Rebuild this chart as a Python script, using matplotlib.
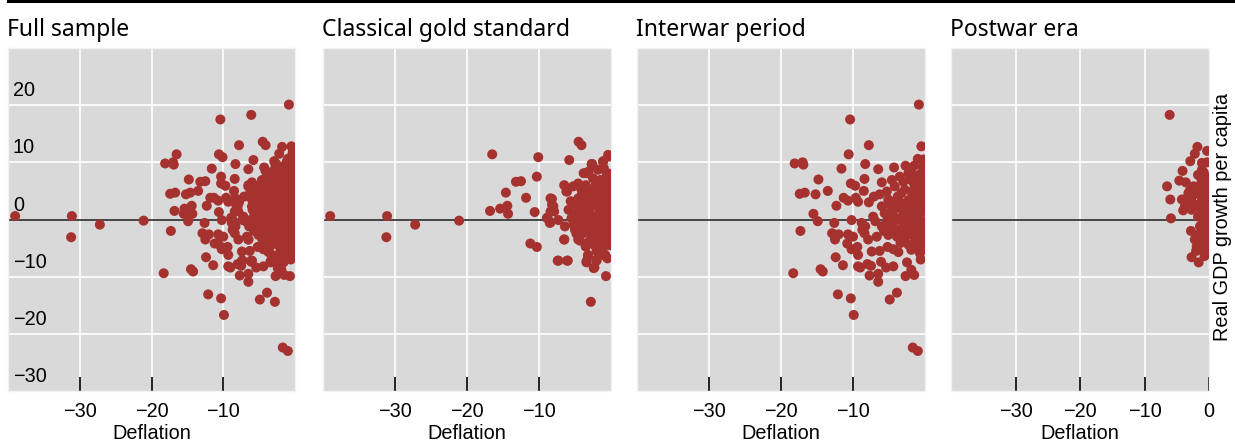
import numpy as np
import matplotlib
matplotlib.use("Agg")
import matplotlib.pyplot as plt
from matplotlib.lines import Line2D

# (deflation, real GDP growth per capita)
classical = [
    (-39.0, 0.6), (-31.1, 0.6), (-31.2, -3.1), (-27.2, -0.9), (-21.1, -0.2),
    (-16.5, 11.4), (-16.8, 1.5), (-15.4, 1.9), (-14.6, 4.7), (-14.4, 2.4),
    (-14.3, 1.0), (-13.2, 6.6), (-12.5, 6.7), (-11.8, 3.8), (-10.1, 10.9),
    (-10.3, 7.5), (-10.6, 1.3), (-11.2, -4.2), (-10.3, -4.8), (-8.9, 0.3),
    (-8.4, -0.5), (-8.2, 3.6), (-8.0, 2.3), (-7.9, 1.4), (-7.4, -7.2),
    (-6.1, -7.2), (-6.5, -3.5), (-6.5, 6.0), (-6.1, 4.9), (-5.8, 10.4),
    (-4.5, 13.6), (-4.1, 13.0), (-4.3, -3.7), (-3.5, -4.7), (-3.4, -7.3),
    (-3.2, -6.5), (-2.4, -8.5), (-2.0, -7.2), (-2.8, -14.4), (-0.7, -9.9),
    (-0.85, -6.3), (-2.6, 9.7), (-1.1, 10.2), (-0.3, 11.0), (-3.8, 8.1),
    (-3.1, 8.4), (-0.4, 11.3), (-2.7, 9.7), (-1.1, 10.1), (-3.4, 8.1),
    (-6.2, 4.9), (-8.4, 3.7), (-8.2, 2.6), (-8.4, 1.4), (-8.8, 0.2),
    (-8.5, -0.6), (-7.3, -0.1), (-6.4, -1.2), (-6.5, -3.5), (-7.3, -7.2),
    (-6.0, -7.2), (-4.55, -3.5), (-3.5, -4.7), (-3.4, -7.5), (-3.2, -6.2),
    (-2.3, -8.4), (-2.0, -7.0), (-0.8, -6.2), (-5.25, 5.8), (-4.55, 6.3),
    (-4.1, 5.2), (-5.25, 2.8), (-5.9, 1.7), (-4.8, 1.1), (-5.5, 0.2),
    (-4.3, -0.6), (-3.6, -1.8), (-5.0, -1.8), (-2.7, -3.0), (-1.8, -4.1),
    (-1.1, -5.0), (-0.4, -4.1), (-1.5, 6.9), (-0.6, 8.1), (-2.2, 5.8),
    (-3.2, 4.0), (-3.85, 3.1), (-2.7, 2.3), (-1.5, 3.1), (-0.6, 4.6),
    (-0.4, 2.3), (-1.3, 1.4), (-2.2, 0.5), (-3.4, 0.8), (-0.8, -0.1),
    (-1.8, -0.9), (-2.9, -0.9), (-0.4, -1.8), (-1.3, -2.4), (-2.2, -2.1),
    (-4.1, 1.7), (-3.6, 5.2), (-2.5, 7.2), (-1.8, 8.7), (-0.4, 6.6),
    (-0.1, 1.1), (-0.1, -3.0), (-0.8, 4.0), (-1.8, 4.3), (-1.1, -1.2),
    (-2.5, -0.1), (-4.55, 3.7), (-3.2, 2.3), (-1.0, 9.0), (-0.3, 8.0),
    (-0.5, 5.5), (-1.2, 5.5), (-2.0, 2.9), (-0.3, 0.2), (-1.0, 0.8),
    (-1.6, -0.3), (-0.2, -0.9), (-0.9, -3.4), (-2.3, -4.5), (-3.9, -2.4),
    (-4.0, 4.5), (-3.5, 6.0), (-2.9, 5.0), (-2.0, 6.5), (-1.0, 7.0),
    (-0.2, 7.5), (-4.6, 2.3), (-3.8, 1.0), (-3.0, 1.5), (-2.4, 3.8),
    (-1.6, 2.0), (-0.7, 3.0), (-0.2, 4.0), (-4.2, -1.3), (-3.2, -0.3),
    (-2.6, -1.6), (-1.9, -2.8), (-1.0, -2.0), (-0.5, -0.5), (-0.1, -1.5),
    (-3.0, -3.8), (-2.0, -5.5), (-1.3, -4.2), (-0.6, -2.8), (-0.2, -4.5),
    (-0.5, -6.8), (-1.5, -6.0), (-3.7, 0.3), (-2.8, -2.0), (-1.7, 1.0),
    (-0.9, 2.0), (-0.2, 3.0), (-2.6, 4.6), (-1.4, 4.8), (-0.7, 5.8),
    (-3.1, 3.2), (-4.8, 0.3), (-5.2, -0.8), (-4.8, -2.5), (-5.6, 3.2),
    (-2.0, -1.3), (-1.4, 0.0), (-0.3, -2.5), (-0.9, 1.2), (-2.9, 0.1),
    (-1.2, 3.6),
]

interwar = [
    (-0.85, 20.1), (-10.4, 17.5), (-7.8, 13.0), (-0.5, 12.8), (-1.0, 10.6),
    (-10.6, 11.4), (-18.1, 9.8), (-17.0, 10.0), (-16.9, 9.6), (-8.3, 9.7),
    (-11.6, 8.9), (-6.5, 8.8), (-4.3, 9.1), (-2.7, 9.4), (-1.5, 9.4),
    (-14.8, 7.0), (-8.4, 7.1), (-10.3, 6.3), (-9.7, 5.9), (-13.5, 5.0),
    (-8.5, 5.0), (-17.4, 4.5), (-16.7, 4.7), (-15.2, 4.4), (-11.3, 3.8),
    (-10.7, 3.3), (-9.6, 3.8), (-9.3, 3.1), (-7.8, 3.0), (-7.1, 4.0),
    (-12.3, 2.4), (-15.5, 1.0), (-14.9, -0.3), (-10.2, -0.1), (-12.6, -0.6),
    (-17.3, -2.0), (-12.9, -2.4), (-12.0, -2.6), (-12.5, -3.5), (-10.7, -2.6),
    (-10.0, -3.0), (-10.8, -4.2), (-10.2, -5.2), (-9.4, -4.8), (-9.3, -6.2),
    (-12.4, -6.6), (-11.4, -8.0), (-14.5, -8.7), (-14.2, -9.1), (-18.3, -9.4),
    (-9.3, -8.2), (-9.0, -8.4), (-8.0, -7.8), (-7.5, -8.1), (-7.7, -9.8),
    (-6.5, -9.5), (-6.5, -10.9), (-6.1, -7.4), (-5.4, -8.4), (-4.4, -8.2),
    (-2.5, -7.5), (-2.7, -9.9), (-1.5, -9.7), (-1.9, -8.8), (-12.1, -13.1),
    (-10.3, -13.8), (-9.9, -16.7), (-4.9, -14.0), (-3.9, -12.8), (-1.7, -22.4),
    (-1.0, -23.0), (-7.4, -5.6), (-6.3, -5.5), (-5.2, -4.8), (-4.4, -5.2),
    (-3.7, -5.7), (-3.4, -4.1), (-6.7, -3.0), (-7.9, -3.5), (-8.4, -2.4),
    (-8.7, -1.8), (-8.3, -1.2), (-8.8, -0.6), (-7.2, 0.5), (-6.9, -0.3),
    (-6.0, -1.2), (-5.1, -2.7), (-3.9, -3.0), (-2.8, -3.3), (-2.3, -4.4),
    (-1.9, -5.3), (-1.2, -5.0), (-0.6, -7.0), (-0.7, -5.9), (-6.3, 4.4),
    (-6.0, 6.5), (-5.3, 4.9), (-5.1, 3.5), (-4.6, 6.9), (-4.2, 5.8),
    (-3.5, 7.5), (-3.0, 6.6), (-2.3, 8.1), (-1.6, 7.8), (-0.9, 6.9),
    (-0.3, 7.2), (-6.0, 2.3), (-5.6, 1.1), (-4.9, 2.6), (-4.4, 1.7),
    (-3.7, 3.4), (-3.3, 4.6), (-2.8, 2.8), (-2.3, 3.4), (-1.9, 4.9),
    (-1.2, 4.0), (-0.5, 4.9), (-1.9, 2.3), (-1.2, 1.7), (-0.5, 2.6),
    (-2.5, 1.1), (-3.3, 0.2), (-3.9, -0.1), (-4.6, -1.2), (-5.3, -0.3),
    (-1.9, 0.5), (-1.2, -0.3), (-0.5, -0.1), (-2.5, -0.6), (-1.9, -1.8),
    (-0.9, -1.8), (-0.25, -2.4), (-3.6, -1.8), (-1.4, -3.0), (-0.5, -3.8),
    (-0.25, 4.0), (-0.25, 6.0), (-0.3, 9.2), (-0.2, 10.5),
    (-3.5, 2.0), (-2.9, -1.0), (-2.0, -2.6), (-1.5, 0.2), (-0.8, 0.9),
    (-0.2, 1.5), (-0.3, -1.0), (-1.0, -3.9), (-0.2, -5.0), (-2.8, 5.2),
    (-1.5, 6.2), (-0.6, 8.0), (-2.1, 7.0), (-3.8, 4.0), (-4.1, 2.7),
    (-3.0, 1.0), (-1.6, 3.0), (-0.8, 3.3), (-0.3, 5.8), (-1.3, -1.2),
    (-2.2, 2.0), (-4.3, 0.5), (-5.0, 0.9), (-5.7, -2.0), (-4.0, -2.2),
    (-3.0, -2.2), (-0.6, -2.7), (-1.6, -4.2), (-0.3, 3.3), (-1.0, 5.6),
]

postwar = [
    (-6.1, 18.3), (-1.8, 12.7), (-2.2, 11.5), (-0.3, 12.0), (-2.9, 10.2),
    (-1.1, 9.9), (-4.1, 8.5), (-4.6, 6.8), (-3.6, 6.5), (-6.5, 5.8),
    (-6.0, 3.5), (-4.2, 3.5), (-3.75, 2.3), (-4.0, 1.6), (-3.2, 2.6),
    (-2.8, 3.4), (-2.7, 1.7), (-5.9, 0.2), (-2.8, -2.0), (-1.7, -2.7),
    (-1.9, -4.7), (-2.7, -6.6), (-1.6, -7.5), (-1.1, -5.3), (-0.6, -5.9),
    (-1.7, 7.8), (-1.1, 8.7), (-0.6, 7.5), (-1.4, 6.0), (-0.9, 5.2),
    (-0.4, 6.6), (-1.7, 4.6), (-1.1, 3.4), (-0.5, 4.0), (-2.2, 2.6),
    (-1.4, 2.0), (-0.6, 2.3), (-1.7, 0.5), (-0.9, -0.1), (-0.4, 0.8),
    (-1.4, -1.2), (-0.6, -1.8), (-1.1, -3.0), (-0.4, -3.5), (-0.9, -4.4),
    (-0.4, -5.0), (-2.2, -3.5), (-3.2, 4.6), (-2.4, 5.8),
    (-0.3, 10.0), (-0.8, 8.2), (-0.3, 7.0), (-1.2, 7.2), (-0.2, 5.0),
    (-1.0, 4.6), (-0.2, 3.0), (-0.8, 2.8), (-0.2, 1.5), (-1.2, 1.2),
    (-0.3, -0.5), (-1.1, 0.3), (-0.2, -2.0), (-1.0, -2.2), (-0.2, -4.2),
    (-1.5, -3.8), (-0.7, -6.4), (-2.0, -5.5), (-2.5, 4.2), (-3.0, 5.0),
]

full = classical + interwar + postwar

panels = [
    ("Full sample", full),
    ("Classical gold standard", classical),
    ("Interwar period", interwar),
    ("Postwar era", postwar),
]
y_ticks = [20, 10, 0, -10, -20, -30]
x_ticks = [-30, -20, -10]

W, H = 1235, 443
fig = plt.figure(figsize=(W / 100, H / 100), dpi=100)

# axes boxes in pixels: left, width
boxes = [(8, 287), (323, 288), (637, 288), (951, 258)]
top, bottom = 48, 391
dot = "#a63230"
bg = "#d9d9d9"
lab_font = "Liberation Sans"

for i, ((title, pts), (left, width)) in enumerate(zip(panels, boxes)):
    ax = fig.add_axes([left / W, 1 - bottom / H, width / W, (bottom - top) / H])
    ax.set_facecolor(bg)
    ax.set_xlim(-40, 0)
    ax.set_ylim(-30, 30)

    for v in [-30, -20, -10]:
        ax.axvline(v, color="white", lw=1.2, zorder=1)
    for v in [-20, -10, 10, 20]:
        ax.axhline(v, color="white", lw=1.2, zorder=1)
    ax.axhline(0, color="#3a3a3a", lw=1.3, zorder=2)

    pts = np.array(pts)
    ax.scatter(pts[:, 0], pts[:, 1], s=52, color=dot, edgecolors="none",
               zorder=3, clip_on=True)

    ticks = x_ticks + [0] if i == 3 else x_ticks
    ax.set_xticks(ticks)
    ax.set_xticklabels([f"{t}".replace("-", "\u2212") for t in ticks],
                       fontsize=14.3, family=lab_font)
    ax.tick_params(axis="x", direction="in", length=10, width=1.2,
                   color="black", pad=8)
    ax.set_yticks([])
    ax.set_xlabel("Deflation", fontsize=14.3, family=lab_font, labelpad=2)

    for s in ax.spines.values():
        s.set_color("#f2f2f2")
        s.set_linewidth(1)

    ax.set_title(title, loc="left", fontsize=16.5, family="Noto Sans",
                 pad=9, x=-0.003)

    if i == 0:
        for v in y_ticks:
            ax.annotate(f"{v}".replace("-", "\u2212"), xy=(0, v),
                        xycoords=("axes fraction", "data"),
                        xytext=(3.5, 3.5), textcoords="offset points",
                        ha="left", va="bottom", fontsize=14.3,
                        family=lab_font, zorder=4)

fig.text(1222 / W, 1 - 217 / H, "Real GDP growth per capita", rotation=90,
         ha="center", va="center", fontsize=14.3, family=lab_font)

fig.add_artist(Line2D([8 / W, 1], [1 - 1 / H, 1 - 1 / H], color="black",
                      lw=2.2, transform=fig.transFigure))

fig.savefig("out.png", dpi=100)
